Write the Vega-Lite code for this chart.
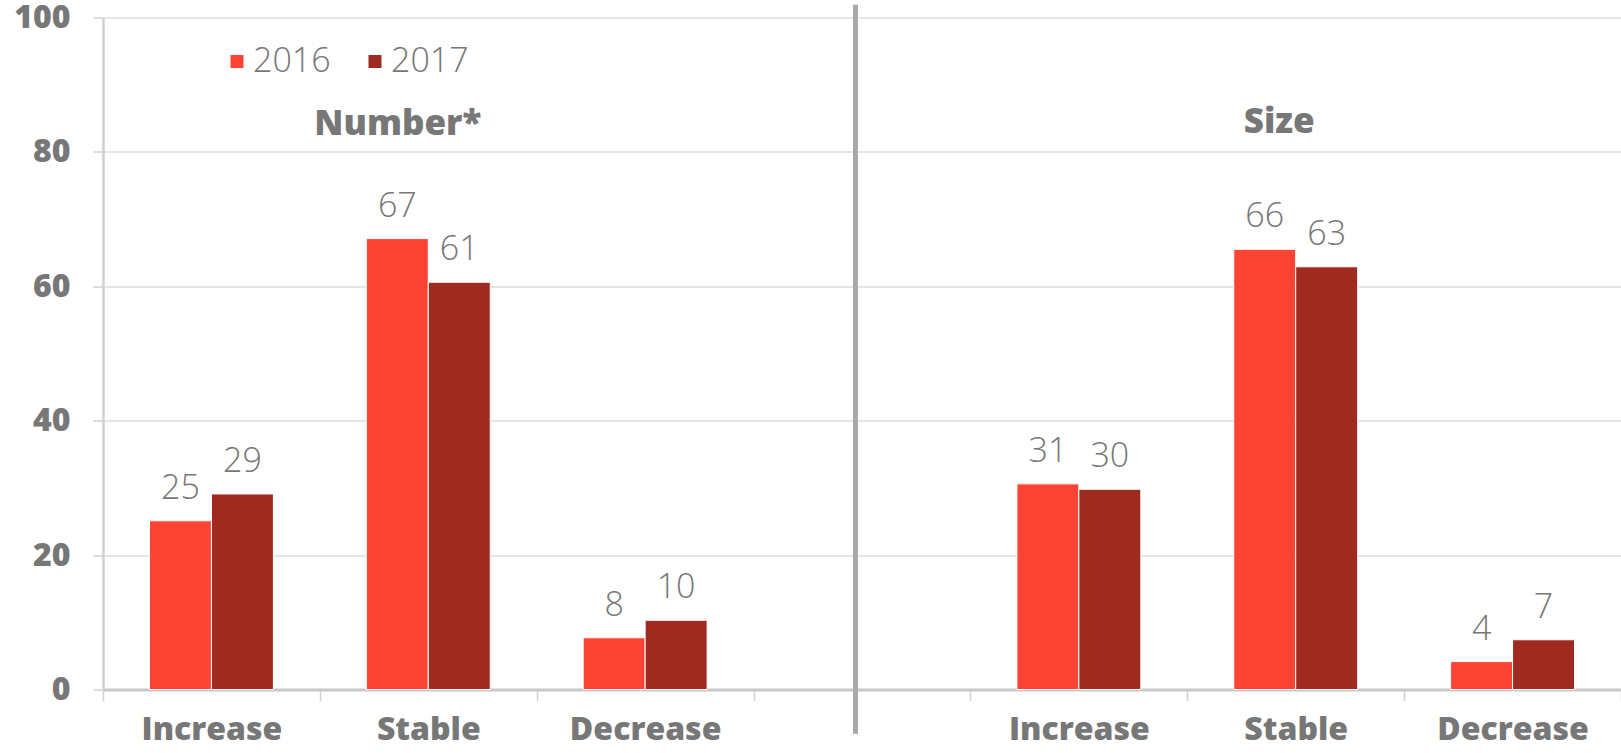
{
  "$schema": "https://vega.github.io/schema/vega-lite/v6.json",
  "width": 1518,
  "height": 672,
  "autosize": "none",
  "padding": {"left": 103, "top": 17.5, "right": 0, "bottom": 63.5},
  "background": "white",
  "config": {"view": {"stroke": null}, "font": "Open Sans"},
  "data": {
    "values": [
      {"cat": "N|Increase", "year": "2016", "value": 25.1},
      {"cat": "N|Increase", "year": "2017", "value": 29.1},
      {"cat": "N|Stable", "year": "2016", "value": 67.1},
      {"cat": "N|Stable", "year": "2017", "value": 60.6},
      {"cat": "N|Decrease", "year": "2016", "value": 7.7},
      {"cat": "N|Decrease", "year": "2017", "value": 10.3},
      {"cat": "S|Increase", "year": "2016", "value": 30.6},
      {"cat": "S|Increase", "year": "2017", "value": 29.8},
      {"cat": "S|Stable", "year": "2016", "value": 65.5},
      {"cat": "S|Stable", "year": "2017", "value": 62.9},
      {"cat": "S|Decrease", "year": "2016", "value": 4.15},
      {"cat": "S|Decrease", "year": "2017", "value": 7.4}
    ]
  },
  "layer": [
    {
      "mark": {"type": "bar", "stroke": "white", "strokeWidth": 1},
      "encoding": {
        "x": {
          "field": "cat",
          "type": "nominal",
          "sort": null,
          "scale": {
            "domain": ["N|Increase", "N|Stable", "N|Decrease", "gap", "S|Increase", "S|Stable", "S|Decrease"],
            "paddingInner": 0,
            "paddingOuter": 0
          },
          "axis": {
            "title": null,
            "labelAngle": 0,
            "labelExpr": "datum.value == 'gap' ? '' : split(datum.value, '|')[1]",
            "tickBand": "extent",
            "ticks": true,
            "tickSize": 11,
            "tickColor": "#d0d0d0",
            "tickWidth": 1.5,
            "domainColor": "#c8c8c8",
            "domainWidth": 3,
            "grid": false,
            "labelFontSize": 32,
            "labelFontWeight": 800,
            "labelColor": "#777777",
            "labelPadding": 14
          }
        },
        "xOffset": {
          "field": "year",
          "type": "nominal",
          "scale": {"paddingOuter": 0.75, "paddingInner": 0}
        },
        "y": {
          "field": "value",
          "type": "quantitative",
          "scale": {"domain": [0, 100], "nice": false},
          "axis": {
            "title": null,
            "values": [0, 20, 40, 60, 80, 100],
            "grid": true,
            "gridColor": "#dcdcdc",
            "gridWidth": 1.5,
            "domain": true,
            "domainColor": "#d0d0d0",
            "domainWidth": 2.5,
            "tickColor": "#d0d0d0",
            "tickSize": 10,
            "tickWidth": 1.5,
            "labelFontSize": 32,
            "labelFontWeight": 800,
            "labelColor": "#777777",
            "labelPadding": 23
          }
        },
        "color": {
          "field": "year",
          "type": "nominal",
          "scale": {"domain": ["2016", "2017"], "range": ["#fc4334", "#9e2a20"]},
          "legend": {
            "title": null,
            "orient": "none",
            "legendX": 117,
            "legendY": 27,
            "direction": "horizontal",
            "symbolType": "square",
            "symbolSize": 169,
            "symbolStrokeWidth": 0,
            "symbolOpacity": 1,
            "labelFontSize": 34,
            "labelFontWeight": 300,
            "labelColor": "#777777",
            "labelOffset": -1,
            "columnPadding": 27,
            "padding": 0
          }
        }
      }
    },
    {
      "mark": {"type": "text", "dy": -22, "baseline": "alphabetic", "fontSize": 34, "fontWeight": 300, "color": "#777777"},
      "encoding": {
        "x": {"field": "cat", "type": "nominal"},
        "xOffset": {"field": "year", "type": "nominal"},
        "y": {"field": "value", "type": "quantitative"},
        "text": {"field": "value", "type": "quantitative", "format": ".0f"}
      }
    },
    {
      "data": {"values": [{"sep": "gap"}]},
      "mark": {"type": "rule", "color": "#a9a9a9", "strokeWidth": 5},
      "encoding": {
        "x": {"field": "sep", "type": "nominal", "bandPosition": 0.47},
        "y": {"datum": 101.9},
        "y2": {"datum": -6.6}
      }
    },
    {
      "data": {"values": [{"title": "Number*", "cat": "N|Stable"}]},
      "mark": {"type": "text", "dx": -30.5, "baseline": "middle", "fontSize": 35, "fontWeight": 800, "color": "#777777"},
      "encoding": {
        "x": {"field": "cat", "type": "nominal"},
        "y": {"datum": 84.1},
        "text": {"field": "title"}
      }
    },
    {
      "data": {"values": [{"title": "Size", "cat": "S|Stable"}]},
      "mark": {"type": "text", "dx": -16.5, "baseline": "middle", "fontSize": 35, "fontWeight": 800, "color": "#777777"},
      "encoding": {
        "x": {"field": "cat", "type": "nominal"},
        "y": {"datum": 84.4},
        "text": {"field": "title"}
      }
    }
  ]
}
